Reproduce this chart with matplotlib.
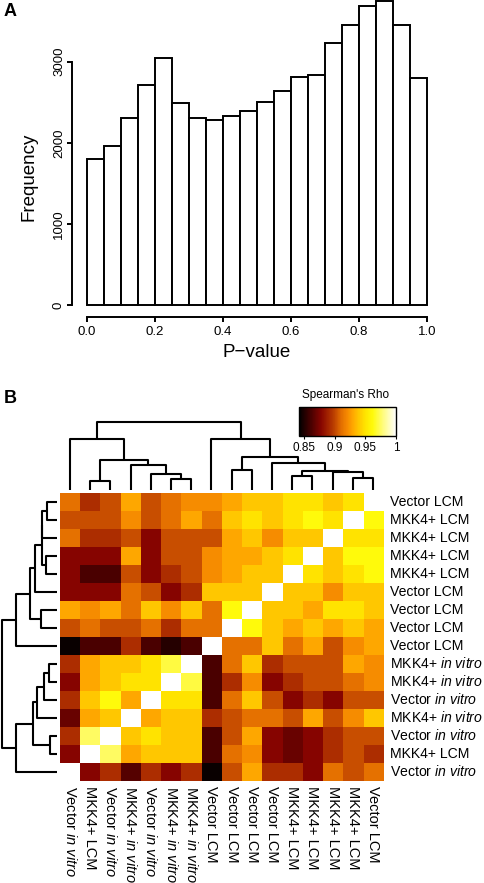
import numpy as np
import matplotlib
matplotlib.use("Agg")
import matplotlib.pyplot as plt
from matplotlib.colors import LinearSegmentedColormap, Normalize
from matplotlib.cm import ScalarMappable

plt.rcParams['font.family'] = ['Liberation Sans', 'DejaVu Sans']
plt.rcParams['mathtext.fontset'] = 'custom'
plt.rcParams['mathtext.rm'] = 'Liberation Sans'
plt.rcParams['mathtext.it'] = 'Liberation Sans:italic'

# ---------------- data: panel A ----------------
bin_edges = [0.0, 0.05, 0.10, 0.15, 0.20, 0.25, 0.30, 0.35, 0.40, 0.45, 0.50,
             0.55, 0.60, 0.65, 0.70, 0.75, 0.80, 0.85, 0.90, 0.95, 1.0]
hist_counts = [1800, 1965, 2305, 2708, 3045, 2490, 2310, 2281, 2326, 2392,
               2499, 2634, 2807, 2840, 3230, 3456, 3690, 3744, 3456, 2795]
hist_xticks = [0.0, 0.2, 0.4, 0.6, 0.8, 1.0]
hist_yticks = [0, 1000, 2000, 3000]

# ---------------- data: panel B ----------------
col_labels = ["Vector in vitro", "MKK4+ LCM", "Vector in vitro", "MKK4+ in vitro",
              "Vector in vitro", "MKK4+ in vitro", "MKK4+ in vitro", "Vector LCM",
              "Vector LCM", "Vector LCM", "Vector LCM", "MKK4+ LCM",
              "MKK4+ LCM", "MKK4+ LCM", "MKK4+ LCM", "Vector LCM"]
row_labels = col_labels[::-1]

# Spearman's rho as displayed (rows top->bottom, columns left->right)
rho = [
    [.912, .893, .903, .930, .903, .912, .921, .921, .930, .940, .940, .950, .950, .940, .950, 1.0],
    [.903, .903, .903, .921, .903, .912, .930, .912, .940, .950, .940, .950, .962, .950, 1.0, .962],
    [.912, .893, .893, .903, .878, .903, .903, .903, .930, .940, .921, .940, .940, 1.0, .950, .950],
    [.878, .878, .878, .930, .878, .903, .903, .921, .930, .930, .940, .950, 1.0, .940, .962, .962],
    [.878, .862, .862, .903, .878, .893, .903, .921, .930, .940, .940, 1.0, .950, .940, .950, .962],
    [.878, .878, .878, .912, .903, .878, .893, .940, .940, .940, 1.0, .940, .940, .921, .940, .940],
    [.930, .921, .930, .912, .940, .921, .940, .912, .962, 1.0, .940, .940, .930, .950, .950, .940],
    [.903, .912, .903, .903, .912, .893, .912, .912, 1.0, .962, .940, .930, .940, .930, .940, .930],
    [.845, .862, .862, .893, .862, .852, .862, 1.0, .912, .912, .940, .912, .930, .903, .921, .930],
    [.893, .930, .940, .940, .950, .970, 1.0, .862, .912, .940, .893, .903, .903, .903, .930, .921],
    [.878, .930, .940, .950, .950, 1.0, .970, .862, .893, .921, .878, .893, .903, .903, .912, .921],
    [.893, .940, .962, .930, 1.0, .950, .950, .862, .912, .940, .903, .878, .893, .878, .903, .903],
    [.870, .930, .940, 1.0, .930, .940, .940, .893, .903, .912, .912, .903, .930, .903, .921, .940],
    [.893, .975, 1.0, .940, .950, .940, .940, .862, .903, .930, .878, .870, .878, .893, .903, .903],
    [.878, 1.0, .975, .930, .940, .940, .940, .862, .912, .921, .878, .870, .878, .893, .903, .893],
    [1.0, .878, .893, .865, .893, .878, .893, .845, .903, .930, .893, .893, .878, .912, .903, .912],
]

# hierarchical clustering of the columns: (child a, child b, merge height)
# leaves 0..15 are columns, merged clusters numbered from 16 on
merge_a = [14, 13, 11, 18, 10, 8, 21, 7, 5, 4, 3, 1, 27, 0, 29]
merge_b = [15, 16, 12, 17, 19, 9, 20, 22, 6, 24, 25, 2, 26, 28, 23]
merge_h = [0.37, 0.55, 0.43, 0.57, 0.82, 0.60, 1.00, 1.52, 0.32, 0.48, 0.75, 0.28, 0.90, 1.52, 2.03]

cbar_ticks = [0.85, 0.9, 0.95, 1.0]
cbar_ticklabels = ["0.85", "0.9", "0.95", "1"]
rho_min, rho_max = 0.842, 1.0

# ---------------- figure ----------------
W, H = 484, 883
fig = plt.figure(figsize=(W / 100, H / 100), dpi=100)


def rect(left, top, width, height):
    return [left / W, 1 - (top + height) / H, width / W, height / H]


def px2pt(p):
    return p * 72 / 100


# Panel A: histogram
ax = fig.add_axes(rect(87, 0, 340, 305))
lefts = bin_edges[:-1]
widths = [b - a for a, b in zip(bin_edges[:-1], bin_edges[1:])]
bars = ax.bar(lefts, hist_counts, width=widths, align='edge', color='white',
              edgecolor='black', linewidth=1.4)
for b in bars:
    b.set_clip_on(False)
ax.set_xlim(0, 1)
ax.set_ylim(0, 3760)
for s in ['top', 'right']:
    ax.spines[s].set_visible(False)
ax.spines['left'].set_position(('outward', px2pt(15)))
ax.spines['bottom'].set_position(('outward', px2pt(12)))
ax.spines['left'].set_bounds(0, 3000)
ax.spines['bottom'].set_bounds(0, 1)
for s in ['left', 'bottom']:
    ax.spines[s].set_linewidth(1.4)
ax.set_xticks(hist_xticks)
ax.set_xticklabels([f"{v:.1f}" for v in hist_xticks], fontsize=9.5)
ax.set_yticks(hist_yticks)
ax.set_yticklabels([str(v) for v in hist_yticks], fontsize=9.5, rotation=90, va='center')
ax.tick_params(axis='both', length=px2pt(5), width=1.4, color='black')
ax.tick_params(axis='x', pad=px2pt(4))
ax.tick_params(axis='y', pad=px2pt(2))
fig.text(29 / W, 1 - 177 / H, "Frequency", rotation=90, ha='center', va='center', fontsize=13.5)
fig.text(257 / W, 1 - 353 / H, "P\u2212value", ha='center', va='center', fontsize=13.5)
fig.text(4 / W, 1 - 11 / H, "A", ha='left', va='center', fontsize=13, fontweight='bold')
fig.text(4 / W, 1 - 398 / H, "B", ha='left', va='center', fontsize=13, fontweight='bold')

# colormap
cm_vals = [0.842, 0.858, 0.878, 0.898, 0.910, 0.920, 0.930, 0.940, 0.950, 0.962, 0.980, 1.0]
cm_cols = [(0, 0, 0), (60, 0, 0), (135, 5, 0), (185, 60, 0), (225, 108, 0), (245, 136, 0),
           (255, 168, 0), (255, 200, 0), (255, 228, 0), (255, 250, 10), (255, 252, 130),
           (255, 255, 255)]
cmap = LinearSegmentedColormap.from_list(
    "rho", [((v - rho_min) / (rho_max - rho_min), tuple(c / 255 for c in col))
            for v, col in zip(cm_vals, cm_cols)])
norm = Normalize(vmin=rho_min, vmax=rho_max)


def fmt(lbl):
    return lbl.replace("in vitro", r"$\mathit{in\ vitro}$")


# heatmap
hx, hy, hw, hh = 60, 493, 323, 288
axh = fig.add_axes(rect(hx, hy, hw, hh))
axh.imshow(np.array(rho), cmap=cmap, norm=norm, aspect='auto', interpolation='nearest',
           extent=(-0.5, 15.5, 15.5, -0.5))
axh.set_xlim(-0.5, 15.5)
axh.set_ylim(15.5, -0.5)
for s in axh.spines.values():
    s.set_visible(False)
axh.set_xticks(range(16))
axh.set_xticklabels([fmt(l) for l in col_labels], rotation=270, ha='center', va='top', fontsize=10.5)
axh.yaxis.tick_right()
axh.set_yticks(range(16))
axh.set_yticklabels([fmt(l) for l in row_labels], fontsize=10.1, ha='left', va='center')
axh.tick_params(axis='x', length=0, pad=px2pt(5))
axh.tick_params(axis='y', length=0, pad=px2pt(6.5))


def dendro(pos0):
    pos = list(pos0)
    hgt = [0.0] * len(pos0)
    segs = []
    for a, b, h in zip(merge_a, merge_b, merge_h):
        segs.append(([pos[a], pos[a], pos[b], pos[b]], [hgt[a], h, h, hgt[b]]))
        pos.append((pos[a] + pos[b]) / 2)
        hgt.append(h)
    return segs


hmax = max(merge_h)
# top dendrogram
axt = fig.add_axes(rect(hx, 422.3, hw, 67.7))
for xs, hs in dendro(list(range(16))):
    axt.plot(xs, hs, color='black', lw=1.5, solid_capstyle='butt', clip_on=False)
axt.set_xlim(-0.5, 15.5)
axt.set_ylim(0, hmax)
axt.axis('off')

# left dendrogram
axl = fig.add_axes(rect(1.7, hy, 55.6, hh))
for ys, hs in dendro([15 - c for c in range(16)]):
    axl.plot(hs, ys, color='black', lw=1.5, solid_capstyle='butt', clip_on=False)
axl.set_ylim(15.5, -0.5)
axl.set_xlim(hmax, 0)
axl.axis('off')

# colour key
axc = fig.add_axes(rect(299, 407, 97, 29))
cb = fig.colorbar(ScalarMappable(norm=norm, cmap=cmap), cax=axc, orientation='horizontal')
cb.set_ticks(cbar_ticks)
cb.set_ticklabels(cbar_ticklabels)
cb.outline.set_linewidth(1.0)
axc.tick_params(axis='x', length=px2pt(3), width=0.8, pad=px2pt(3), labelsize=8.5)
fig.text(345.5 / W, 1 - 395 / H, "Spearman's Rho", ha='center', va='center', fontsize=8.5)

fig.savefig("out.png", dpi=100)
